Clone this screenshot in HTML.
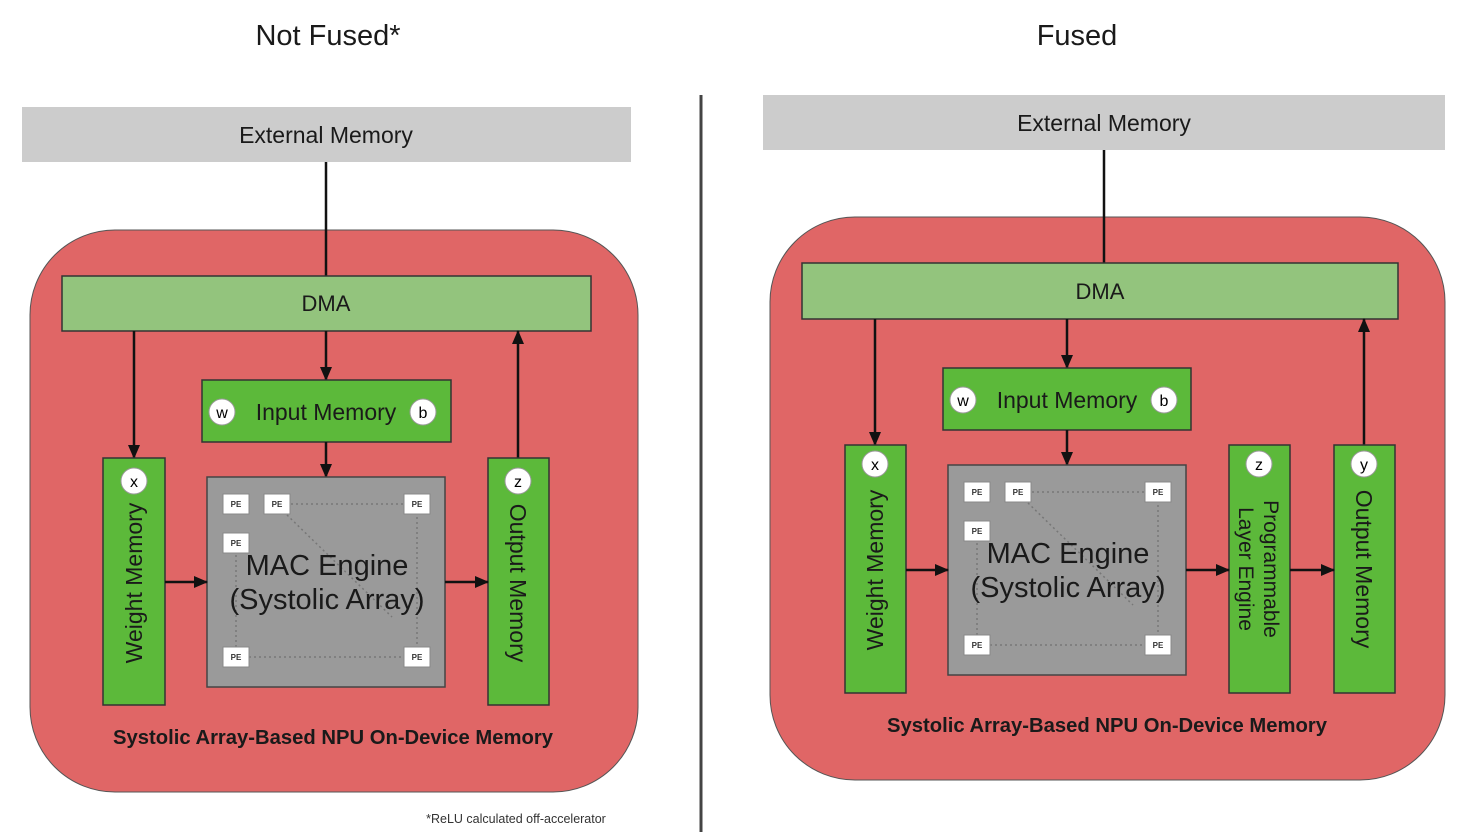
<!DOCTYPE html>
<html><head><meta charset="utf-8"><style>
html,body{margin:0;padding:0;background:#fff;}
svg{display:block;font-family:"Liberation Sans",sans-serif;}
</style></head><body>
<svg width="1476" height="839" viewBox="0 0 1476 839" xmlns="http://www.w3.org/2000/svg">
<defs>
<marker id="ah2" markerWidth="14" markerHeight="12" refX="13" refY="6" orient="auto" markerUnits="userSpaceOnUse" viewBox="0 0 14 12">
<path d="M0,0 L14,6 L0,12 z" fill="#111"/></marker>
<g id="mac">
<rect x="0" y="0" width="238" height="210" fill="#9a9a9a" stroke="#444" stroke-width="1.5"/>
<g stroke="#777" stroke-width="1.5" stroke-dasharray="2,3" fill="none">
<line x1="84" y1="27" x2="196" y2="27"/><line x1="210" y1="40" x2="210" y2="170"/>
<line x1="29" y1="78" x2="29" y2="170"/><line x1="42" y1="180" x2="196" y2="180"/>
<line x1="80" y1="38" x2="185" y2="140"/>
</g>
<g font-size="8" font-weight="bold" text-anchor="middle" fill="#333">
<rect x="16" y="17" width="26" height="20" fill="#fff" stroke="#888"/><text x="29" y="30">PE</text>
<rect x="57" y="17" width="26" height="20" fill="#fff" stroke="#888"/><text x="70" y="30">PE</text>
<rect x="197" y="17" width="26" height="20" fill="#fff" stroke="#888"/><text x="210" y="30">PE</text>
<rect x="16" y="56" width="26" height="20" fill="#fff" stroke="#888"/><text x="29" y="69">PE</text>
<rect x="16" y="170" width="26" height="20" fill="#fff" stroke="#888"/><text x="29" y="183">PE</text>
<rect x="197" y="170" width="26" height="20" fill="#fff" stroke="#888"/><text x="210" y="183">PE</text>
</g>
<text x="120" y="98" font-size="29" text-anchor="middle" fill="#1a1a1a">MAC Engine</text>
<text x="120" y="132" font-size="29" text-anchor="middle" fill="#1a1a1a">(Systolic Array)</text>
</g>
</defs>

<!-- LEFT -->
<text x="328" y="45" font-size="29" text-anchor="middle" fill="#1a1a1a">Not Fused*</text>
<rect x="22" y="107" width="609" height="55" fill="#cccccc"/>
<text x="326" y="143" font-size="23" text-anchor="middle" fill="#1a1a1a">External Memory</text>
<rect x="30" y="230" width="608" height="562" rx="85" fill="#e06666" stroke="#555" stroke-width="1"/>
<line x1="326" y1="162" x2="326" y2="276" stroke="#111" stroke-width="2.5"/>
<rect x="62" y="276" width="529" height="55" fill="#93c47d" stroke="#333" stroke-width="1.5"/>
<text x="326" y="311" font-size="22" text-anchor="middle" fill="#1a1a1a">DMA</text>
<line x1="326" y1="331" x2="326" y2="380" stroke="#111" stroke-width="2.5" marker-end="url(#ah2)"/>
<rect x="202" y="380" width="249" height="62" fill="#5cb93a" stroke="#333" stroke-width="1.5"/>
<circle cx="222" cy="412" r="13" fill="#fff" stroke="#999"/><text x="222" y="418" font-size="16" text-anchor="middle">w</text>
<circle cx="423" cy="412" r="13" fill="#fff" stroke="#999"/><text x="423" y="418" font-size="16" text-anchor="middle">b</text>
<text x="326" y="420" font-size="23" text-anchor="middle" fill="#1a1a1a">Input Memory</text>
<line x1="326" y1="442" x2="326" y2="477" stroke="#111" stroke-width="2.5" marker-end="url(#ah2)"/>
<use href="#mac" x="207" y="477"/>
<line x1="134" y1="331" x2="134" y2="458" stroke="#111" stroke-width="2.5" marker-end="url(#ah2)"/>
<rect x="103" y="458" width="62" height="247" fill="#5cb93a" stroke="#333" stroke-width="1.5"/>
<circle cx="134" cy="481" r="13" fill="#fff" stroke="#999"/><text x="134" y="487" font-size="16" text-anchor="middle">x</text>
<text transform="translate(142,583) rotate(-90)" font-size="23" text-anchor="middle" fill="#1a1a1a">Weight Memory</text>
<line x1="518" y1="458" x2="518" y2="331" stroke="#111" stroke-width="2.5" marker-end="url(#ah2)"/>
<rect x="488" y="458" width="61" height="247" fill="#5cb93a" stroke="#333" stroke-width="1.5"/>
<circle cx="518" cy="481" r="13" fill="#fff" stroke="#999"/><text x="518" y="487" font-size="16" text-anchor="middle">z</text>
<text transform="translate(510,583) rotate(90)" font-size="23" text-anchor="middle" fill="#1a1a1a">Output Memory</text>
<line x1="165" y1="582" x2="207" y2="582" stroke="#111" stroke-width="2.5" marker-end="url(#ah2)"/>
<line x1="445" y1="582" x2="488" y2="582" stroke="#111" stroke-width="2.5" marker-end="url(#ah2)"/>
<text x="333" y="744" font-size="20" font-weight="bold" text-anchor="middle" fill="#1a1a1a" textLength="440" lengthAdjust="spacingAndGlyphs">Systolic Array-Based NPU On-Device Memory</text>
<text x="516" y="823" font-size="12.5" text-anchor="middle" fill="#333">*ReLU calculated off-accelerator</text>

<line x1="701" y1="95" x2="701" y2="832" stroke="#444" stroke-width="3"/>

<!-- RIGHT -->
<text x="1077" y="45" font-size="29" text-anchor="middle" fill="#1a1a1a">Fused</text>
<rect x="763" y="95" width="682" height="55" fill="#cccccc"/>
<text x="1104" y="131" font-size="23" text-anchor="middle" fill="#1a1a1a">External Memory</text>
<rect x="770" y="217" width="675" height="563" rx="85" fill="#e06666" stroke="#555" stroke-width="1"/>
<line x1="1104" y1="150" x2="1104" y2="263" stroke="#111" stroke-width="2.5"/>
<rect x="802" y="263" width="596" height="56" fill="#93c47d" stroke="#333" stroke-width="1.5"/>
<text x="1100" y="299" font-size="22" text-anchor="middle" fill="#1a1a1a">DMA</text>
<line x1="1067" y1="319" x2="1067" y2="368" stroke="#111" stroke-width="2.5" marker-end="url(#ah2)"/>
<rect x="943" y="368" width="248" height="62" fill="#5cb93a" stroke="#333" stroke-width="1.5"/>
<circle cx="963" cy="400" r="13" fill="#fff" stroke="#999"/><text x="963" y="406" font-size="16" text-anchor="middle">w</text>
<circle cx="1164" cy="400" r="13" fill="#fff" stroke="#999"/><text x="1164" y="406" font-size="16" text-anchor="middle">b</text>
<text x="1067" y="408" font-size="23" text-anchor="middle" fill="#1a1a1a">Input Memory</text>
<line x1="1067" y1="430" x2="1067" y2="465" stroke="#111" stroke-width="2.5" marker-end="url(#ah2)"/>
<use href="#mac" x="948" y="465"/>
<line x1="875" y1="319" x2="875" y2="445" stroke="#111" stroke-width="2.5" marker-end="url(#ah2)"/>
<rect x="845" y="445" width="61" height="248" fill="#5cb93a" stroke="#333" stroke-width="1.5"/>
<circle cx="875" cy="464" r="13" fill="#fff" stroke="#999"/><text x="875" y="470" font-size="16" text-anchor="middle">x</text>
<text transform="translate(883,570) rotate(-90)" font-size="23" text-anchor="middle" fill="#1a1a1a">Weight Memory</text>
<rect x="1229" y="445" width="61" height="248" fill="#5cb93a" stroke="#333" stroke-width="1.5"/>
<circle cx="1259" cy="464" r="13" fill="#fff" stroke="#999"/><text x="1259" y="470" font-size="16" text-anchor="middle">z</text>
<text transform="translate(1259,569) rotate(90)" font-size="21" text-anchor="middle" fill="#1a1a1a"><tspan x="0" dy="-5">Programmable</tspan><tspan x="0" dy="25">Layer Engine</tspan></text>
<line x1="1364" y1="445" x2="1364" y2="319" stroke="#111" stroke-width="2.5" marker-end="url(#ah2)"/>
<rect x="1334" y="445" width="61" height="248" fill="#5cb93a" stroke="#333" stroke-width="1.5"/>
<circle cx="1364" cy="464" r="13" fill="#fff" stroke="#999"/><text x="1364" y="470" font-size="16" text-anchor="middle">y</text>
<text transform="translate(1356,569) rotate(90)" font-size="23" text-anchor="middle" fill="#1a1a1a">Output Memory</text>
<line x1="906" y1="570" x2="948" y2="570" stroke="#111" stroke-width="2.5" marker-end="url(#ah2)"/>
<line x1="1186" y1="570" x2="1229" y2="570" stroke="#111" stroke-width="2.5" marker-end="url(#ah2)"/>
<line x1="1290" y1="570" x2="1334" y2="570" stroke="#111" stroke-width="2.5" marker-end="url(#ah2)"/>
<text x="1107" y="732" font-size="20" font-weight="bold" text-anchor="middle" fill="#1a1a1a" textLength="440" lengthAdjust="spacingAndGlyphs">Systolic Array-Based NPU On-Device Memory</text>
</svg>
</body></html>
